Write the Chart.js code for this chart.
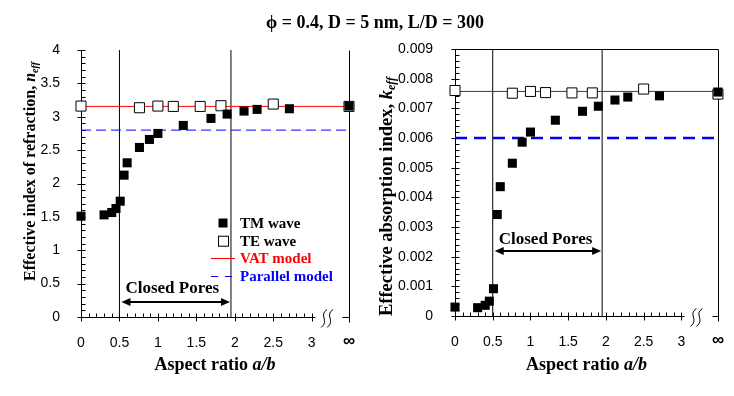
<!DOCTYPE html>
<html>
<head>
<meta charset="utf-8">
<script src="https://cdn.jsdelivr.net/npm/chart.js@4.4.1/dist/chart.umd.min.js"></script>
<style>
    body { margin: 0; background: #fff; }
    #wrap { position: relative; width: 734px; height: 396px; overflow: hidden; }
    #title {
        position: absolute; left: 8px; top: 12px; width: 734px; text-align: center;
        font: bold 18px "Liberation Serif", "DejaVu Serif", serif; color: #000;
    }
    canvas { position: absolute; top: 0; }
</style>
</head>
<body>
<div id="wrap">
    <canvas id="refractionChart" width="367" height="396" style="left:0"></canvas>
    <canvas id="absorptionChart" width="367" height="396" style="left:367px"></canvas>
    <div id="title">ϕ = 0.4, D = 5 nm, L/D = 300</div>
</div>
<script>
//aspect ratio a/b, the infinite case sits at the right end of the axis
const INF = 3.485;
const xTickValues = [0, 0.5, 1, 1.5, 2, 2.5, 3, INF];

//TM wave (filled squares)
const tmAspect = [0, 0.3, 0.4, 0.455, 0.51, 0.56, 0.6, 0.76, 0.89, 1.0, 1.33, 1.69, 1.9, 2.12, 2.29, 2.71, INF];
const tmIndex = [1.51, 1.53, 1.565, 1.625, 1.735, 2.125, 2.31, 2.54, 2.66, 2.75, 2.87, 2.975, 3.04, 3.085, 3.11, 3.12, 3.16];
const tmAbsorption = [0.00030, 0.00028, 0.00036, 0.00050, 0.00092, 0.00342, 0.00436, 0.00515, 0.00586, 0.00620,
    0.00660, 0.00690, 0.00707, 0.00728, 0.00738, 0.00742, 0.00755];

//TE wave (open squares)
const teAspect = [0, 0.76, 1.0, 1.2, 1.55, 1.82, 2.5, INF];
const teIndex = [3.16, 3.135, 3.16, 3.155, 3.155, 3.165, 3.19, 3.155];
const teAbsorption = [0.00760, 0.00751, 0.00757, 0.00753, 0.00752, 0.00752, 0.00765, 0.00748];

//model lines
const vatIndex = 3.155, parallelIndex = 2.8;
const vatAbsorption = 0.00757, parallelAbsorption = 0.006;

//closed pores range
const closedPores = [0.5, 1.95];

const serif = '"Liberation Serif", "Times New Roman", serif';
const sans = '"Liberation Sans", Arial, sans-serif';

function toPoints(xs, ys) {
    return xs.map((x, i) => ({ x: x, y: ys[i] }));
}

function drawParts(ctx, parts, cx, baseline) {
    let w = 0;
    for (let p of parts) {
        ctx.font = p.font;
        w += ctx.measureText(p.text).width;
    }
    let x = cx - w / 2;
    for (let p of parts) {
        ctx.font = p.font;
        ctx.fillStyle = p.color || '#000';
        ctx.fillText(p.text, x, baseline + (p.dy || 0));
        x += ctx.measureText(p.text).width;
    }
}

/*
    Axes, ticks, break, annotations, legend and titles
*/
const decorations = {
    id: 'decorations',
    beforeDatasetsDraw(chart, args, o) {
        const ctx = chart.ctx;
        const xs = chart.scales.x, ys = chart.scales.y;
        const X = v => Math.round(xs.getPixelForValue(v)) + 0.5;
        const Y = v => Math.round(ys.getPixelForValue(v)) + 0.5;
        const x0 = X(0), y0 = Y(0), xInf = X(INF), yTop = Y(o.yMax);

        ctx.save();
        ctx.strokeStyle = '#000';
        ctx.lineWidth = 1;
        ctx.beginPath();
        // y axis
        ctx.moveTo(x0, yTop);
        ctx.lineTo(x0, y0);
        const nY = Math.round(o.yMax / o.yMinor), perMajor = Math.round(o.yStep / o.yMinor);
        for (let i = 0; i <= nY; i++) {
            const y = Y(i * o.yMinor);
            ctx.moveTo(i % perMajor ? x0 : x0 - 4, y);
            ctx.lineTo(x0 + 4, y);
        }
        // x axis up to the break
        ctx.moveTo(x0, y0);
        ctx.lineTo(X(3.04), y0);
        for (let i = 0; i <= 30; i++) {
            const x = X(i / 10);
            ctx.moveTo(x, y0 - 4);
            ctx.lineTo(x, i % 5 ? y0 : y0 + 4);
        }
        ctx.moveTo(X(3.4), y0);
        ctx.lineTo(xInf, y0);
        // right border, top border
        ctx.moveTo(xInf, yTop);
        ctx.lineTo(xInf, y0 + 5);
        if (o.topBorder) {
            ctx.moveTo(x0, yTop);
            ctx.lineTo(xInf, yTop);
        }
        ctx.stroke();

        // axis break mark
        const bx = xs.getPixelForValue(3.2);
        ctx.beginPath();
        for (let off of [-3, 3]) {
            ctx.moveTo(bx + off + 3, y0 - 8);
            ctx.bezierCurveTo(bx + off - 6, y0 - 2, bx + off + 6, y0 + 3, bx + off - 3, y0 + 10);
        }
        ctx.stroke();
        ctx.restore();
    },
    afterDatasetsDraw(chart, args, o) {
        const ctx = chart.ctx, a = chart.chartArea;
        const xs = chart.scales.x, ys = chart.scales.y;
        ctx.save();

        // closed pores double arrow
        const xl = xs.getPixelForValue(closedPores[0]) + 2;
        const xr = xs.getPixelForValue(closedPores[1]) - 1;
        const ya = Math.round(ys.getPixelForValue(o.arrowAt));
        ctx.strokeStyle = '#000';
        ctx.fillStyle = '#000';
        ctx.lineWidth = 2;
        ctx.beginPath();
        ctx.moveTo(xl + 6, ya);
        ctx.lineTo(xr - 6, ya);
        ctx.stroke();
        ctx.beginPath();
        ctx.moveTo(xl, ya);
        ctx.lineTo(xl + 9, ya - 4);
        ctx.lineTo(xl + 9, ya + 4);
        ctx.closePath();
        ctx.moveTo(xr, ya);
        ctx.lineTo(xr - 9, ya - 4);
        ctx.lineTo(xr - 9, ya + 4);
        ctx.closePath();
        ctx.fill();
        ctx.font = 'bold 17px ' + serif;
        ctx.textBaseline = 'alphabetic';
        ctx.textAlign = 'left';
        ctx.fillText('Closed Pores', xl + o.labelGap, ya - o.labelRise);

        // legend
        if (o.legend) {
            const lx = o.legend.x, ly = o.legend.y, dy = o.legend.dy;
            ctx.fillStyle = '#000';
            ctx.fillRect(lx - 4.5, ly - 4.5, 9, 9);
            ctx.lineWidth = 1;
            ctx.strokeRect(lx - 4.5, ly + dy - 4.5, 10, 10);
            ctx.strokeStyle = '#ff0000';
            ctx.beginPath();
            ctx.moveTo(lx - 12, Math.round(ly + 2 * dy) + 0.5);
            ctx.lineTo(lx + 12, Math.round(ly + 2 * dy) + 0.5);
            ctx.stroke();
            ctx.strokeStyle = '#0000ff';
            ctx.setLineDash([7, 7]);
            ctx.beginPath();
            ctx.moveTo(lx - 12, Math.round(ly + 3 * dy) + 0.5);
            ctx.lineTo(lx + 12, Math.round(ly + 3 * dy) + 0.5);
            ctx.stroke();
            ctx.setLineDash([]);
            const names = ['TM wave', 'TE wave', 'VAT model', 'Parallel model'];
            const cols = ['#000', '#000', '#ff0000', '#0000ff'];
            ctx.font = 'bold 15px ' + serif;
            for (let i = 0; i < names.length; i++) {
                ctx.fillStyle = cols[i];
                ctx.fillText(names[i], lx + 17, ly + i * dy + 5);
            }
        }

        // x title
        ctx.textAlign = 'left';
        drawParts(ctx, [
            { text: 'Aspect ratio ', font: 'bold 18px ' + serif },
            { text: 'a/b', font: 'italic bold 18px ' + serif },
        ], (a.left + a.right) / 2, o.xTitleY);

        // y title
        ctx.translate(o.yTitle.x, o.yTitle.y);
        ctx.rotate(-Math.PI / 2);
        drawParts(ctx, [
            { text: o.yTitle.text, font: 'bold ' + o.yTitle.size + 'px ' + serif },
            { text: o.yTitle.sym, font: 'italic bold ' + o.yTitle.size + 'px ' + serif },
            { text: 'eff', font: 'italic bold ' + Math.round(o.yTitle.size * 0.65) + 'px ' + serif, dy: 3 },
        ], 0, 6);
        ctx.restore();
    }
};

/*
    Chart builder
*/
function buildChart(id, p) {
    return new Chart(document.getElementById(id).getContext('2d'), {
        type: 'scatter',
        data: {
            datasets: [
                {
                    label: 'TM wave',
                    data: toPoints(tmAspect, p.tm),
                    pointStyle: 'rect',
                    pointRadius: 6.4,
                    backgroundColor: '#000',
                    borderWidth: 0,
                    clip: false,
                }, {
                    label: 'TE wave',
                    data: toPoints(teAspect, p.te),
                    pointStyle: 'rect',
                    pointRadius: 7.1,
                    backgroundColor: '#fff',
                    borderColor: '#000',
                    borderWidth: 1,
                    clip: false,
                }, {
                    label: 'VAT model',
                    data: [{ x: 0, y: p.vat }, { x: INF, y: p.vat }],
                    showLine: true,
                    pointRadius: 0,
                    borderColor: p.vatColor,
                    borderWidth: 1,
                }, {
                    label: 'Parallel model',
                    data: [{ x: 0, y: p.parallel }, { x: INF, y: p.parallel }],
                    showLine: true,
                    pointRadius: 0,
                    borderColor: '#0000ff',
                    borderWidth: p.parallelWidth,
                    borderDash: p.parallelDash,
                }, {
                    data: [{ x: closedPores[0], y: 0 }, { x: closedPores[0], y: p.yMax }],
                    showLine: true,
                    pointRadius: 0,
                    borderColor: '#000',
                    borderWidth: 1,
                }, {
                    data: [{ x: closedPores[1], y: 0 }, { x: closedPores[1], y: p.yMax }],
                    showLine: true,
                    pointRadius: 0,
                    borderColor: '#000',
                    borderWidth: 1,
                },
            ]
        },
        options: {
            responsive: false,
            animation: false,
            events: [],
            layout: { padding: { top: p.padTop, right: p.padRight, left: 0, bottom: 0 } },
            plugins: {
                legend: { display: false },
                tooltip: { enabled: false },
                decorations: p,
            },
            scales: {
                x: {
                    type: 'linear',
                    min: 0,
                    max: INF,
                    afterBuildTicks: s => { s.ticks = xTickValues.map(v => ({ value: v })); },
                    afterFit: s => { s.height = p.xAxisHeight; },
                    grid: { display: false },
                    border: { display: false },
                    ticks: {
                        autoSkip: false,
                        maxRotation: 0,
                        padding: 10,
                        color: '#000',
                        font: c => (c.tick && c.tick.value === INF)
                            ? { family: sans, size: 17, weight: 'bold', lineHeight: 0.8 }
                            : { family: sans, size: 14 },
                        callback: v => v === INF ? '∞' : v,
                    },
                },
                y: {
                    min: 0,
                    max: p.yMax,
                    afterFit: s => { s.width = p.yAxisWidth; },
                    grid: { display: false },
                    border: { display: false },
                    ticks: {
                        stepSize: p.yStep,
                        padding: p.yPadding,
                        color: '#000',
                        font: { family: sans, size: 14 },
                        callback: p.yLabel,
                    },
                },
            },
        },
        plugins: [decorations],
    });
}

const refractionChart = buildChart('refractionChart', {
    tm: tmIndex, te: teIndex,
    vat: vatIndex, vatColor: '#ff0000',
    parallel: parallelIndex, parallelWidth: 1, parallelDash: [10, 5],
    yMax: 4, yStep: 0.5, yMinor: 0.1,
    yLabel: v => v,
    padTop: 50, padRight: 18, yAxisWidth: 81, xAxisHeight: 79, yPadding: 13,
    topBorder: false,
    arrowAt: 0.22, labelGap: 4, labelRise: 9,
    legend: { x: 223, y: 223, dy: 17.7 },
    xTitleY: 370,
    yTitle: { text: 'Effective index of refraction, ', sym: 'n', size: 16, x: 29, y: 171.5 },
});

const absorptionChart = buildChart('absorptionChart', {
    tm: tmAbsorption, te: teAbsorption,
    vat: vatAbsorption, vatColor: '#cc0000',
    parallel: parallelAbsorption, parallelWidth: 2.5, parallelDash: [12, 7],
    yMax: 0.009, yStep: 0.001, yMinor: 0.0002,
    yLabel: v => v === 0 ? '0' : v.toFixed(3),
    padTop: 49, padRight: 12, yAxisWidth: 88, xAxisHeight: 80, yPadding: 14,
    topBorder: true,
    arrowAt: 0.00219, labelGap: 4, labelRise: 7,
    legend: null,
    xTitleY: 370,
    yTitle: { text: 'Effective absorption index, ', sym: 'k', size: 18.5, x: 19, y: 196.5 },
});
</script>
</body>
</html>
